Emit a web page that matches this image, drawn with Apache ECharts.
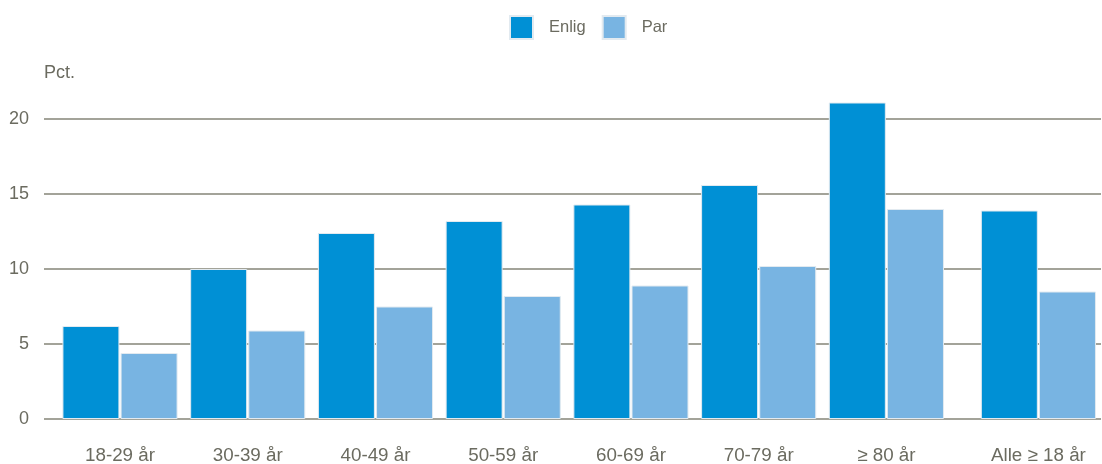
<!DOCTYPE html>
<html>
<head>
<meta charset="utf-8">
<script src="https://cdn.jsdelivr.net/npm/echarts@6/dist/echarts.min.js"></script>
<style>html,body{margin:0;padding:0;background:#fff}#c{width:1102px;height:464px}</style>
</head>
<body>
<div id="c"></div>
<script>
var categories = ['18-29 år', '30-39 år', '40-49 år', '50-59 år', '60-69 år', '70-79 år', '≥ 80 år', 'Alle ≥ 18 år'];
// group positions along the x axis (the last group is set slightly apart)
var positions = [0, 1, 2, 3, 4, 5, 6, 7.19];
var enlig = [6.2, 10.0, 12.4, 13.2, 14.3, 15.6, 21.1, 13.9];
var par = [4.4, 5.9, 7.5, 8.2, 8.9, 10.2, 14.0, 8.5];
var yTicks = [0, 5, 10, 15, 20];

function pairs(vals) { return vals.map(function (v, i) { return [positions[i], v]; }); }

var textColor = '#6b6b60';
var chart = echarts.init(document.getElementById('c'), null, { renderer: 'canvas' });
chart.setOption({
  animation: false,
  textStyle: { fontFamily: 'Liberation Sans, Arial, sans-serif' },
  legend: {
    left: 509, top: 15, padding: 0,
    icon: 'rect', itemWidth: 23, itemHeight: 23, itemGap: 16,
    textStyle: { color: textColor, fontSize: 16.5, padding: [0, 0, 0, 11] },
    data: ['Enlig', 'Par']
  },
  grid: { left: 44, right: 1, top: 119, bottom: 45, containLabel: false, outerBoundsMode: 'none' },
  xAxis: {
    type: 'value', min: -0.595, max: 7.68,
    splitLine: { show: false }, axisLine: { show: false }, axisTick: { show: false },
    axisLabel: {
      customValues: positions,
      color: textColor, fontSize: 18.8, margin: 27,
      formatter: function (v) {
        var i = positions.indexOf(v);
        return i >= 0 ? categories[i] : '';
      }
    }
  },
  yAxis: {
    type: 'value', min: yTicks[0], max: yTicks[yTicks.length - 1], interval: 5,
    name: 'Pct.', nameLocation: 'end', nameGap: 46,
    nameTextStyle: { color: textColor, fontSize: 18, align: 'left', verticalAlign: 'middle', padding: 0 },
    axisLine: { show: false, onZero: false }, axisTick: { show: false },
    axisLabel: { color: textColor, fontSize: 18, margin: 15 },
    splitLine: { lineStyle: { color: '#858577', width: 1.5 } }
  },
  series: [
    {
      name: 'Enlig', type: 'bar', data: pairs(enlig), barWidth: 57, barGap: '2%', clip: false,
      itemStyle: { color: '#0090d5', borderColor: '#e2eaf0', borderWidth: 1 }
    },
    {
      name: 'Par', type: 'bar', data: pairs(par), barWidth: 57, barGap: '2%', clip: false,
      itemStyle: { color: '#78b4e2', borderColor: '#e2eaf0', borderWidth: 1 }
    }
  ]
});
</script>
</body>
</html>
